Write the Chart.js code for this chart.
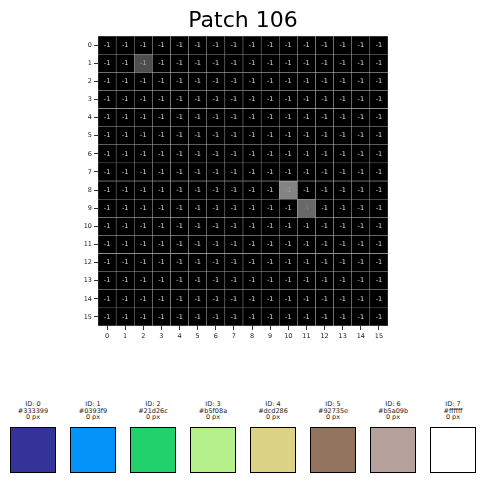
<!DOCTYPE html>
<html>
<head>
<meta charset="utf-8">
<script src="https://cdn.jsdelivr.net/npm/chart.js@4"></script>
<style>
  html, body { margin: 0; padding: 0; background: #fff; }
  body { width: 484px; height: 483px; position: relative; overflow: hidden; font-family: "DejaVu Sans", sans-serif; }
  #wrap { position: absolute; left: 0; top: 0; width: 484px; height: 350px; }
  .sw { position: absolute; width: 60px; text-align: center; font-size: 6.5px; line-height: 6.6px; color: #222; }
  .box { position: absolute; width: 44px; height: 44px; border: 1.2px solid #000; }
</style>
</head>
<body>
<div id="wrap"><canvas id="patchChart"></canvas></div>
<div id="legend"></div>
<script>
// grid size and labels
const rows = [0, 1, 2, 3, 4, 5, 6, 7, 8, 9, 10, 11, 12, 13, 14, 15];
const cols = [0, 1, 2, 3, 4, 5, 6, 7, 8, 9, 10, 11, 12, 13, 14, 15];
// every cell is annotated -1
const cellValue = -1;
// highlighted cells: [row, col, grey level]
const highlights = [[1, 2, 78], [8, 10, 132], [9, 11, 104]];
const titleText = "Patch 106";

// palette legend
const paletteIds = [0, 1, 2, 3, 4, 5, 6, 7];
const paletteHex = ["#333399", "#0393f9", "#21d26c", "#b5f08a", "#dcd286", "#92735e", "#b5a09b", "#ffffff"];
const palettePx = [0, 0, 0, 0, 0, 0, 0, 0];

function shadeOf(r, c) {
  const h = highlights.find(x => x[0] === r && x[1] === c);
  return h ? h[2] : 0;
}

const datasets = rows.map(r => ({
  label: "row " + r,
  data: cols.map(() => 1),
  backgroundColor: cols.map(c => { const g = shadeOf(r, c); return `rgb(${g},${g},${g})`; }),
  borderColor: "rgba(170,170,170,0.75)",
  borderWidth: 0.5,
  borderSkipped: false,
  barPercentage: 1,
  categoryPercentage: 1
}));

const cellText = {
  id: "cellText",
  afterDatasetsDraw(chart) {
    const ctx = chart.ctx;
    ctx.save();
    ctx.font = "6.5px 'DejaVu Sans'";
    ctx.textAlign = "center";
    ctx.textBaseline = "middle";
    chart.data.datasets.forEach((ds, r) => {
      chart.getDatasetMeta(r).data.forEach((bar, c) => {
        const g = shadeOf(r, c);
        ctx.fillStyle = g ? `rgba(200,200,200,${g > 120 ? 0.35 : (g > 90 ? 0.25 : 0.8)})` : "rgba(255,255,255,0.85)";
        const cy = (bar.y + bar.base) / 2;
        ctx.fillText(String(cellValue), bar.x, cy);
      });
    });
    // title centred on the heatmap
    const area = chart.chartArea;
    ctx.font = "22px 'DejaVu Sans'";
    ctx.fillStyle = "#000";
    ctx.textBaseline = "alphabetic";
    ctx.fillText(titleText, (area.left + area.right) / 2, 27);
    ctx.restore();
  }
};

new Chart(document.getElementById("patchChart"), {
  type: "bar",
  data: { labels: cols.map(String), datasets: datasets },
  options: {
    responsive: true,
    maintainAspectRatio: false,
    animation: false,
    layout: { padding: { left: 78, right: 96, top: 36, bottom: 0 } },
    plugins: {
      legend: { display: false },
      tooltip: { enabled: false },
      title: { display: false }
    },
    scales: {
      x: {
        stacked: true,
        grid: { display: true, drawOnChartArea: false, tickLength: 4, color: "#333", offset: false },
        border: { display: false },
        ticks: { color: "#222", font: { family: "DejaVu Sans", size: 6.5 }, padding: 2, maxRotation: 0 },
        afterFit(axis) { axis.height = 24; }
      },
      y: {
        stacked: true,
        reverse: true,
        min: 0,
        max: rows.length,
        afterBuildTicks(axis) { axis.ticks = rows.map(r => ({ value: r + 0.5 })); },
        grid: { display: true, drawOnChartArea: false, tickLength: 4, color: "#333" },
        border: { display: false },
        ticks: {
          color: "#222",
          font: { family: "DejaVu Sans", size: 6.5 },
          padding: 2,
          callback: v => String(Math.floor(v))
        },
        afterFit(axis) { axis.width = 20; }
      }
    }
  },
  plugins: [cellText]
});

// palette swatches
const legend = document.getElementById("legend");
paletteIds.forEach((id, i) => {
  const x = 10 + i * 60;
  const t = document.createElement("div");
  t.className = "sw";
  t.style.left = (x - 7) + "px";
  t.style.top = "401px";
  t.innerHTML = "ID: " + id + "<br>" + paletteHex[i] + "<br>" + palettePx[i] + " px";
  legend.appendChild(t);
  const b = document.createElement("div");
  b.className = "box";
  b.style.left = x + "px";
  b.style.top = "427px";
  b.style.background = paletteHex[i];
  legend.appendChild(b);
});
</script>
</body>
</html>
